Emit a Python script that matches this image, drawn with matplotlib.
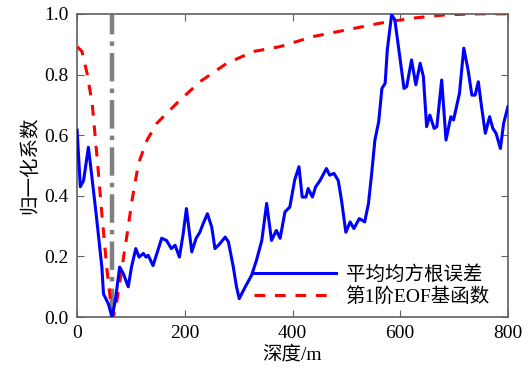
import numpy as np
import matplotlib.pyplot as plt

plt.rcParams['font.family'] = ['Liberation Serif', 'Noto Sans CJK SC']
plt.rcParams['mathtext.fontset'] = 'stix'

# 平均均方根误差 (blue)
rmse_depth = [0, 6, 12, 21, 27, 36, 46, 49, 58, 65, 71, 79, 86, 95, 101, 109, 115, 123,
              128, 132, 141, 150, 157, 166, 175, 182, 190, 197, 203, 213, 221, 228, 234,
              242, 250, 256, 265, 275, 281, 290, 296, 301, 312, 324, 333, 343, 352, 361,
              370, 377, 386, 395, 404, 412, 418, 425, 429, 437, 443, 451, 463, 469, 477,
              485, 491, 499, 507, 514, 524, 534, 541, 547, 553, 560, 566, 572, 576, 584,
              590, 600, 607, 612, 621, 629, 637, 643, 649, 655, 663, 668, 677, 685, 694,
              699, 710, 718, 726, 733, 739, 745, 751, 758, 766, 772, 778, 786, 792, 800]
rmse_val = [0.617, 0.43, 0.45, 0.56, 0.47, 0.33, 0.165, 0.077, 0.044, 0.0, 0.055, 0.165,
            0.143, 0.10, 0.165, 0.226, 0.198, 0.21, 0.198, 0.204, 0.17, 0.22, 0.26, 0.253,
            0.226, 0.237, 0.198, 0.275, 0.358, 0.215, 0.26, 0.28, 0.308, 0.341, 0.297,
            0.226, 0.242, 0.264, 0.248, 0.166, 0.10, 0.061, 0.099, 0.138, 0.187, 0.253,
            0.375, 0.253, 0.286, 0.26, 0.347, 0.363, 0.452, 0.496, 0.396, 0.396, 0.424,
            0.396, 0.43, 0.45, 0.49, 0.468, 0.474, 0.45, 0.385, 0.28, 0.314, 0.292, 0.325,
            0.314, 0.374, 0.474, 0.584, 0.644, 0.754, 0.771, 0.881, 0.997, 0.98, 0.848,
            0.754, 0.76, 0.848, 0.766, 0.837, 0.793, 0.628, 0.666, 0.622, 0.628, 0.782,
            0.584, 0.661, 0.65, 0.738, 0.887, 0.815, 0.732, 0.732, 0.776, 0.694, 0.606,
            0.661, 0.622, 0.606, 0.556, 0.639, 0.694]

# 第1阶EOF基函数 (red dashed)
eof_depth = [0, 9, 18.5, 28, 37, 46, 55, 62, 68, 74, 83.5, 93, 102, 114, 130, 148, 185,
             228, 278, 328, 377, 438, 500, 562, 624, 686, 748, 800]
eof_val = [0.892, 0.876, 0.804, 0.705, 0.529, 0.341, 0.165, 0.055, 0.005, 0.055, 0.165,
           0.275, 0.385, 0.507, 0.584, 0.639, 0.705, 0.776, 0.837, 0.876, 0.892, 0.925,
           0.947, 0.969, 0.986, 0.997, 1.0, 1.0]

mark_depth = 65

fig, ax = plt.subplots(figsize=(5.28, 3.74), dpi=100)
fig.subplots_adjust(left=0.146, right=0.962, top=0.963, bottom=0.152)

ax.axvline(mark_depth, color='#808080', linestyle='-.', linewidth=3.2, zorder=1)
ax.plot(rmse_depth, rmse_val, color='blue', linewidth=2.2, label='平均均方根误差', zorder=3)
ax.plot(eof_depth, eof_val, color='red', linewidth=2.2, linestyle=(0, (3.5, 3.2)),
        label='第1阶EOF基函数', zorder=2)

ax.set_xlim(0, 800)
ax.set_ylim(0, 1.0)
ax.set_xticks([0, 200, 400, 600, 800])
ax.set_yticks([0.0, 0.2, 0.4, 0.6, 0.8, 1.0])
ax.set_yticklabels(['0.0', '0.2', '0.4', '0.6', '0.8', '1.0'])
ax.tick_params(direction='in', top=True, right=True, labelsize=14, length=5,
               color='#606060', pad=6)
for s in ax.spines.values():
    s.set_color('#606060')
    s.set_linewidth(1.2)

ax.set_xlabel('深度/m', fontsize=14, labelpad=2)
ax.set_ylabel('归一化系数', fontsize=14, labelpad=4)

ax.legend(loc='lower right', frameon=False, fontsize=14, handlelength=4.2,
          handletextpad=0.5, labelspacing=0.15, borderaxespad=0.2,
          bbox_to_anchor=(0.985, 0.0))

fig.savefig('out.png', dpi=100)
